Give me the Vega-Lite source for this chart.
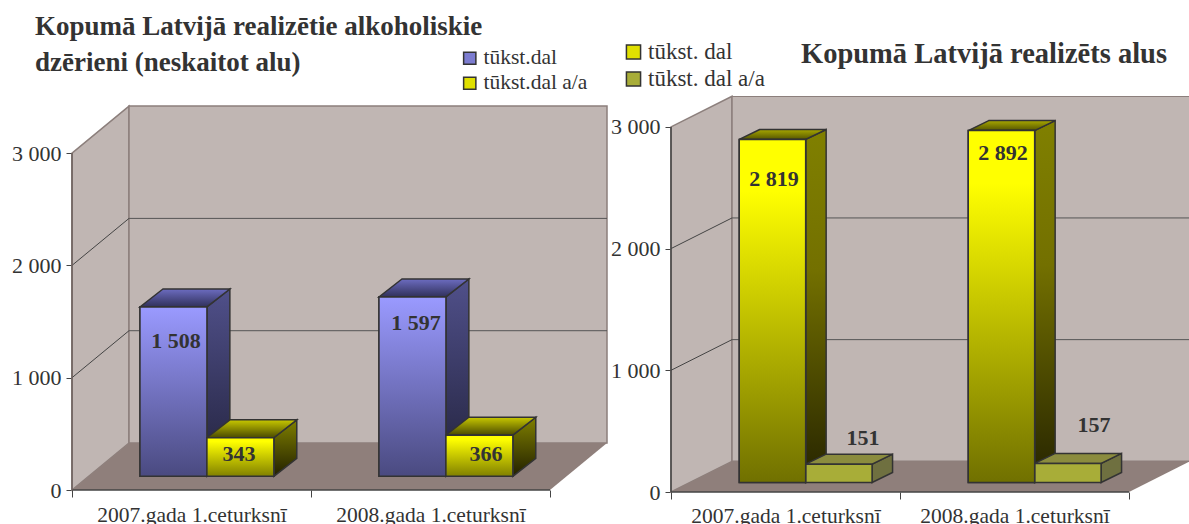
{"$schema":"https://vega.github.io/schema/vega-lite/v6.json","background":"white","padding":{"left":11,"top":12,"right":0,"bottom":0},"bounds":"flush","spacing":64,"resolve":{"scale":{"fill":"independent"},"legend":{"fill":"independent"}},"config":{"view":{"stroke":null},"font":"Liberation Serif"},
"datasets":{"ticks":[{"tick":0},{"tick":1000},{"tick":2000},{"tick":3000}],
"left":[{"group":0,"period":"2007.gada 1.ceturksnī","series":"tūkst.dal","value":1508},{"group":0,"period":"2007.gada 1.ceturksnī","series":"tūkst.dal a/a","value":343},{"group":1,"period":"2008.gada 1.ceturksnī","series":"tūkst.dal","value":1597},{"group":1,"period":"2008.gada 1.ceturksnī","series":"tūkst.dal a/a","value":366}],
"right":[{"group":0,"period":"2007.gada 1.ceturksnī","series":"tūkst. dal","value":2819},{"group":0,"period":"2007.gada 1.ceturksnī","series":"tūkst. dal a/a","value":151},{"group":1,"period":"2008.gada 1.ceturksnī","series":"tūkst. dal","value":2892},{"group":1,"period":"2008.gada 1.ceturksnī","series":"tūkst. dal a/a","value":157}]},
"hconcat":[
{"width":535,"height":396,
"title":{"text":["Kopumā Latvijā realizētie alkoholiskie","dzērieni (neskaitot alu)"],"anchor":"start","frame":"group","dx":-37,"offset":-29,"fontSize":27,"lineHeight":36,"fontWeight":"bold","font":"Liberation Serif","color":"#333333"},
"encoding":{"x":{"field":"x","type":"quantitative","scale":{"domain":[0,2.2385],"nice":false,"zero":false},"axis":{"title":null,"grid":false,"domain":false,"offset":-2,"values":[0,0.5,1,1.5,2],"labelExpr":"datum.value==0.5?'2007.gada 1.ceturksnī':datum.value==1.5?'2008.gada 1.ceturksnī':''","tickOpacity":{"condition":{"test":"datum.value%1!=0","value":0},"value":1},"tickSize":7,"tickColor":"#444444","labelFontSize":21.5,"labelColor":"#333333","labelPadding":7.5,"labelLimit":400,"labelOverlap":false,"labelFlush":false,"labelBound":false}},
"y":{"field":"y","type":"quantitative","scale":{"domain":[-17.8,3508.5],"nice":false,"zero":false},"axis":{"title":null,"grid":false,"domain":false,"values":[0,1000,2000,3000],"labelExpr":"replace(format(datum.value,','),',',' ')","tickSize":6,"tickColor":"#444444","labelFontSize":22,"labelColor":"#333333","labelPadding":5}}},
"layer":[
{"data":{"name":"ticks"},"transform":[{"filter":"datum.tick==3000"},{"calculate":"[0,1]","as":"t"},{"flatten":["t"]},{"calculate":"datum.t*0.2385","as":"x"},{"calculate":"datum.t*418.5","as":"y"},{"calculate":"datum.tick+datum.t*418.5","as":"y2"}],"mark":{"type":"area","fill":"#c0b6b3","stroke":"#8c7f7c","strokeWidth":1.5},"encoding":{"y2":{"field":"y2"}}},
{"data":{"name":"ticks"},"transform":[{"filter":"datum.tick==3000"},{"calculate":"0.2385","as":"x"},{"calculate":"2.2385","as":"x2"},{"calculate":"418.5","as":"y"},{"calculate":"datum.tick+418.5","as":"y2"}],"mark":{"type":"rect","fill":"#c0b6b3","stroke":"#8c7f7c","strokeWidth":1.5},"encoding":{"x2":{"field":"x2"},"y2":{"field":"y2"}}},
{"data":{"name":"ticks"},"transform":[{"filter":"datum.tick==0"},{"calculate":"[0,1]","as":"t"},{"flatten":["t"]},{"calculate":"datum.t*0.2385","as":"x"},{"calculate":"2+datum.t*0.2385","as":"x2"},{"calculate":"datum.t*418.5","as":"y"}],"mark":{"type":"area","fill":"#8f7f7b","orient":"horizontal"},"encoding":{"x2":{"field":"x2"}}},
{"data":{"name":"ticks"},"transform":[{"filter":"datum.tick==1000||datum.tick==2000"},{"calculate":"0.2385","as":"x"},{"calculate":"2.2385","as":"x2"},{"calculate":"datum.tick+418.5","as":"y"}],"mark":{"type":"rule","color":"#555555","strokeWidth":1},"encoding":{"x2":{"field":"x2"}}},
{"data":{"name":"ticks"},"transform":[{"filter":"datum.tick==1000||datum.tick==2000"},{"calculate":"[0,1]","as":"t"},{"flatten":["t"]},{"calculate":"datum.t*0.2385","as":"x"},{"calculate":"datum.tick+datum.t*418.5","as":"y"}],"mark":{"type":"line","color":"#444444","strokeWidth":1},"encoding":{"detail":{"field":"tick"}}},
{"data":{"name":"left"},"transform":[{"filter":"indexof(datum.series,'a/a')<0"},{"calculate":"[0,1]","as":"t"},{"flatten":["t"]},{"calculate":"datum.group+0.2845+0.28+datum.t*0.096","as":"x"},{"calculate":"122+datum.t*160","as":"y"},{"calculate":"122+datum.value+datum.t*160","as":"y2"}],"mark":{"type":"area","stroke":"#333333","strokeWidth":1.5,"fill":{"gradient":"linear","x1":0,"y1":0,"x2":0,"y2":1,"stops":[{"offset":0,"color":"#50508a"},{"offset":1,"color":"#22223c"}]}},"encoding":{"y2":{"field":"y2"},"detail":{"field":"group"}}},
{"data":{"name":"left"},"transform":[{"filter":"indexof(datum.series,'a/a')<0"},{"calculate":"[0,1]","as":"t"},{"flatten":["t"]},{"calculate":"datum.group+0.2845+datum.t*0.096","as":"x"},{"calculate":"datum.group+0.2845+0.28+datum.t*0.096","as":"x2"},{"calculate":"122+datum.value+datum.t*160","as":"y"}],"mark":{"type":"area","orient":"horizontal","stroke":"#333333","strokeWidth":1.5,"fill":{"gradient":"linear","x1":0,"y1":0,"x2":0,"y2":1,"stops":[{"offset":0,"color":"#6c6cc0"},{"offset":1,"color":"#30305a"}]}},"encoding":{"x2":{"field":"x2"},"detail":{"field":"group"}}},
{"data":{"name":"left"},"transform":[{"filter":"indexof(datum.series,'a/a')>=0"},{"calculate":"[0,1]","as":"t"},{"flatten":["t"]},{"calculate":"datum.group+0.2845+0.56+datum.t*0.096","as":"x"},{"calculate":"122+datum.t*160","as":"y"},{"calculate":"122+datum.value+datum.t*160","as":"y2"}],"mark":{"type":"area","stroke":"#333333","strokeWidth":1.5,"fill":{"gradient":"linear","x1":0,"y1":0,"x2":0,"y2":1,"stops":[{"offset":0,"color":"#808000"},{"offset":1,"color":"#222000"}]}},"encoding":{"y2":{"field":"y2"},"detail":{"field":"group"}}},
{"data":{"name":"left"},"transform":[{"filter":"indexof(datum.series,'a/a')>=0"},{"calculate":"[0,1]","as":"t"},{"flatten":["t"]},{"calculate":"datum.group+0.5645+datum.t*0.096","as":"x"},{"calculate":"datum.group+0.8445+datum.t*0.096","as":"x2"},{"calculate":"122+datum.value+datum.t*160","as":"y"}],"mark":{"type":"area","orient":"horizontal","stroke":"#333333","strokeWidth":1.5,"fill":{"gradient":"linear","x1":0,"y1":0,"x2":0,"y2":1,"stops":[{"offset":0,"color":"#c8c800"},{"offset":1,"color":"#4a4a00"}]}},"encoding":{"x2":{"field":"x2"},"detail":{"field":"group"}}},
{"data":{"name":"left"},"transform":[{"calculate":"indexof(datum.series,'a/a')<0?0:1","as":"s"},{"calculate":"datum.group+0.2845+datum.s*0.28","as":"x"},{"calculate":"datum.x+0.28","as":"x2"},{"calculate":"122","as":"y"},{"calculate":"122+datum.value","as":"y2"}],"mark":{"type":"rect","stroke":"#333333","strokeWidth":1.5},"encoding":{"x2":{"field":"x2"},"y2":{"field":"y2"},"fill":{"field":"series","type":"nominal","scale":{"domain":["tūkst.dal","tūkst.dal a/a"],"range":["#7c7cd0","#e0e000"]},"legend":{"title":null,"orient":"none","legendX":387,"legendY":-48.5,"symbolType":"square","symbolSize":150,"symbolStrokeWidth":1.5,"labelFontSize":21.5,"labelColor":"#333333","rowPadding":2,"labelOffset":3,"encode":{"symbols":{"update":{"fill":{"signal":"indexof(datum.value,'a/a')<0?{gradient:'linear',x1:0,y1:0,x2:0,y2:1,stops:[{offset:0,color:'#9a9aff'},{offset:1,color:'#4a4a80'}]}:{gradient:'linear',x1:0,y1:0,x2:0,y2:1,stops:[{offset:0.1,color:'#ffff00'},{offset:1,color:'#808000'}]}"}}}}}}}},
{"data":{"name":"left"},"transform":[{"filter":"indexof(datum.series,'a/a')<0"},{"calculate":"datum.group+0.2845","as":"x"},{"calculate":"datum.x+0.28","as":"x2"},{"calculate":"122","as":"y"},{"calculate":"122+datum.value","as":"y2"}],"mark":{"type":"rect","stroke":"#333333","strokeWidth":1.5,"fill":{"gradient":"linear","x1":0,"y1":0,"x2":0,"y2":1,"stops":[{"offset":0,"color":"#9a9aff"},{"offset":1,"color":"#4a4a80"}]}},"encoding":{"x2":{"field":"x2"},"y2":{"field":"y2"}}},
{"data":{"name":"left"},"transform":[{"filter":"indexof(datum.series,'a/a')>=0"},{"calculate":"datum.group+0.5645","as":"x"},{"calculate":"datum.x+0.28","as":"x2"},{"calculate":"122","as":"y"},{"calculate":"122+datum.value","as":"y2"}],"mark":{"type":"rect","stroke":"#333333","strokeWidth":1.5,"fill":{"gradient":"linear","x1":0,"y1":0,"x2":0,"y2":1,"stops":[{"offset":0.1,"color":"#ffff00"},{"offset":1,"color":"#808000"}]}},"encoding":{"x2":{"field":"x2"},"y2":{"field":"y2"}}},
{"data":{"name":"left"},"transform":[{"calculate":"({'1508':0.435,'343':0.699,'1597':1.439,'366':1.732})[datum.value]","as":"x"},{"calculate":"({'1508':1327,'343':323,'1597':1487,'366':323})[datum.value]","as":"y"},{"calculate":"replace(format(datum.value,','),',',' ')","as":"label"}],"mark":{"type":"text","fontSize":22,"fontWeight":"bold","color":"#333333","baseline":"middle","align":"center"},"encoding":{"text":{"field":"label"}}},
{"data":{"name":"ticks"},"transform":[{"filter":"datum.tick==0"},{"calculate":"0","as":"x"},{"calculate":"2","as":"x2"},{"calculate":"0","as":"y"}],"mark":{"type":"rule","color":"#444444","strokeWidth":1.5},"encoding":{"x2":{"field":"x2"}}},
{"data":{"name":"ticks"},"transform":[{"filter":"datum.tick==0"},{"calculate":"0","as":"x"},{"calculate":"0","as":"y"},{"calculate":"3000","as":"y2"}],"mark":{"type":"rule","color":"#6b5f5c","strokeWidth":1.5},"encoding":{"y2":{"field":"y2"}}}
]},
{"width":518,"height":396,
"title":{"text":"Kopumā Latvijā realizēts alus","anchor":"start","frame":"group","dx":130,"offset":-28,"fontSize":28.5,"fontWeight":"bold","font":"Liberation Serif","color":"#333333"},
"encoding":{"x":{"field":"x","type":"quantitative","scale":{"domain":[0,2.262],"nice":false,"zero":false},"axis":{"title":null,"grid":false,"domain":false,"values":[0,0.5,1,1.5,2],"labelExpr":"datum.value==0.5?'2007.gada 1.ceturksnī':datum.value==1.5?'2008.gada 1.ceturksnī':''","tickOpacity":{"condition":{"test":"datum.value%1!=0","value":0},"value":1},"tickSize":7,"tickColor":"#444444","labelFontSize":21.5,"labelColor":"#333333","labelPadding":6,"labelLimit":400,"labelOverlap":false,"labelFlush":false,"labelBound":false}},
"y":{"field":"y","type":"quantitative","scale":{"domain":[0,3254],"nice":false,"zero":false},"axis":{"title":null,"grid":false,"domain":false,"values":[0,1000,2000,3000],"labelExpr":"replace(format(datum.value,','),',',' ')","tickSize":6,"tickColor":"#444444","labelFontSize":22,"labelColor":"#333333","labelPadding":5}}},
"layer":[
{"data":{"name":"ticks"},"transform":[{"filter":"datum.tick==3000"},{"calculate":"[0,1]","as":"t"},{"flatten":["t"]},{"calculate":"datum.t*0.2664","as":"x"},{"calculate":"datum.t*252","as":"y"},{"calculate":"datum.tick+datum.t*252","as":"y2"}],"mark":{"type":"area","fill":"#c0b6b3","stroke":"#8c7f7c","strokeWidth":1.5},"encoding":{"y2":{"field":"y2"}}},
{"data":{"name":"ticks"},"transform":[{"filter":"datum.tick==3000"},{"calculate":"0.2664","as":"x"},{"calculate":"2.2664","as":"x2"},{"calculate":"252","as":"y"},{"calculate":"datum.tick+252","as":"y2"}],"mark":{"type":"rect","fill":"#c0b6b3","stroke":"#8c7f7c","strokeWidth":1.5,"clip":true},"encoding":{"x2":{"field":"x2"},"y2":{"field":"y2"}}},
{"data":{"name":"ticks"},"transform":[{"filter":"datum.tick==0"},{"calculate":"[0,1]","as":"t"},{"flatten":["t"]},{"calculate":"datum.t*0.2664","as":"x"},{"calculate":"2+datum.t*0.2664","as":"x2"},{"calculate":"datum.t*252","as":"y"}],"mark":{"type":"area","fill":"#8f7f7b","orient":"horizontal","clip":true},"encoding":{"x2":{"field":"x2"}}},
{"data":{"name":"ticks"},"transform":[{"filter":"datum.tick==1000||datum.tick==2000"},{"calculate":"0.2664","as":"x"},{"calculate":"2.2664","as":"x2"},{"calculate":"datum.tick+252","as":"y"}],"mark":{"type":"rule","color":"#555555","strokeWidth":1,"clip":true},"encoding":{"x2":{"field":"x2"}}},
{"data":{"name":"ticks"},"transform":[{"filter":"datum.tick==1000||datum.tick==2000"},{"calculate":"[0,1]","as":"t"},{"flatten":["t"]},{"calculate":"datum.t*0.2664","as":"x"},{"calculate":"datum.tick+datum.t*252","as":"y"}],"mark":{"type":"line","color":"#444444","strokeWidth":1},"encoding":{"detail":{"field":"tick"}}},
{"data":{"name":"right"},"transform":[{"filter":"indexof(datum.series,'a/a')<0"},{"calculate":"[0,1]","as":"t"},{"flatten":["t"]},{"calculate":"datum.group+0.298+0.29+datum.t*0.0895","as":"x"},{"calculate":"78+datum.t*82","as":"y"},{"calculate":"78+datum.value+datum.t*82","as":"y2"}],"mark":{"type":"area","stroke":"#333333","strokeWidth":1.5,"fill":{"gradient":"linear","x1":0,"y1":0,"x2":0,"y2":1,"stops":[{"offset":0,"color":"#808000"},{"offset":0.4,"color":"#737000"},{"offset":1,"color":"#262400"}]}},"encoding":{"y2":{"field":"y2"},"detail":{"field":"group"}}},
{"data":{"name":"right"},"transform":[{"filter":"indexof(datum.series,'a/a')<0"},{"calculate":"[0,1]","as":"t"},{"flatten":["t"]},{"calculate":"datum.group+0.298+datum.t*0.0895","as":"x"},{"calculate":"datum.group+0.588+datum.t*0.0895","as":"x2"},{"calculate":"78+datum.value+datum.t*82","as":"y"}],"mark":{"type":"area","orient":"horizontal","stroke":"#333333","strokeWidth":1.5,"fill":{"gradient":"linear","x1":0,"y1":0,"x2":0,"y2":1,"stops":[{"offset":0,"color":"#a8a800"},{"offset":1,"color":"#555500"}]}},"encoding":{"x2":{"field":"x2"},"detail":{"field":"group"}}},
{"data":{"name":"right"},"transform":[{"filter":"indexof(datum.series,'a/a')>=0"},{"calculate":"[0,1]","as":"t"},{"flatten":["t"]},{"calculate":"datum.group+0.298+0.58+datum.t*0.0895","as":"x"},{"calculate":"78+datum.t*82","as":"y"},{"calculate":"78+datum.value+datum.t*82","as":"y2"}],"mark":{"type":"area","fill":"#6f7040","stroke":"#333333","strokeWidth":1.5},"encoding":{"y2":{"field":"y2"},"detail":{"field":"group"}}},
{"data":{"name":"right"},"transform":[{"filter":"indexof(datum.series,'a/a')>=0"},{"calculate":"[0,1]","as":"t"},{"flatten":["t"]},{"calculate":"datum.group+0.588+datum.t*0.0895","as":"x"},{"calculate":"datum.group+0.878+datum.t*0.0895","as":"x2"},{"calculate":"78+datum.value+datum.t*82","as":"y"}],"mark":{"type":"area","orient":"horizontal","fill":"#8b8c3e","stroke":"#333333","strokeWidth":1.5},"encoding":{"x2":{"field":"x2"},"detail":{"field":"group"}}},
{"data":{"name":"right"},"transform":[{"calculate":"indexof(datum.series,'a/a')<0?0:1","as":"s"},{"calculate":"datum.group+0.298+datum.s*0.29","as":"x"},{"calculate":"datum.x+0.29","as":"x2"},{"calculate":"78","as":"y"},{"calculate":"78+datum.value","as":"y2"}],"mark":{"type":"rect","stroke":"#333333","strokeWidth":1.5},"encoding":{"x2":{"field":"x2"},"y2":{"field":"y2"},"fill":{"field":"series","type":"nominal","scale":{"domain":["tūkst. dal","tūkst. dal a/a"],"range":["#e0e000","#a8ad38"]},"legend":{"title":null,"orient":"none","legendX":-49,"legendY":-55.5,"symbolType":"square","symbolSize":200,"symbolStrokeWidth":1.5,"labelFontSize":23,"labelColor":"#333333","rowPadding":3,"labelOffset":3,"encode":{"symbols":{"update":{"fill":{"signal":"indexof(datum.value,'a/a')<0?{gradient:'linear',x1:0,y1:0,x2:0,y2:1,stops:[{offset:0.15,color:'#ffff00'},{offset:1,color:'#707000'}]}:'#a8ad38'"}}}}}}}},
{"data":{"name":"right"},"transform":[{"filter":"indexof(datum.series,'a/a')<0"},{"calculate":"datum.group+0.298","as":"x"},{"calculate":"datum.x+0.29","as":"x2"},{"calculate":"78","as":"y"},{"calculate":"78+datum.value","as":"y2"}],"mark":{"type":"rect","stroke":"#333333","strokeWidth":1.5,"fill":{"gradient":"linear","x1":0,"y1":0,"x2":0,"y2":1,"stops":[{"offset":0.15,"color":"#ffff00"},{"offset":1,"color":"#707000"}]}},"encoding":{"x2":{"field":"x2"},"y2":{"field":"y2"}}},
{"data":{"name":"right"},"transform":[{"calculate":"({'2819':0.45,'151':0.838,'2892':1.45,'157':1.847})[datum.value]","as":"x"},{"calculate":"({'2819':2570,'151':444,'2892':2785,'157':548})[datum.value]","as":"y"},{"calculate":"replace(format(datum.value,','),',',' ')","as":"label"}],"mark":{"type":"text","fontSize":22,"fontWeight":"bold","color":"#333333","baseline":"middle","align":"center"},"encoding":{"text":{"field":"label"}}},
{"data":{"name":"ticks"},"transform":[{"filter":"datum.tick==0"},{"calculate":"0","as":"x"},{"calculate":"2","as":"x2"},{"calculate":"0","as":"y"}],"mark":{"type":"rule","color":"#444444","strokeWidth":1.5},"encoding":{"x2":{"field":"x2"}}},
{"data":{"name":"ticks"},"transform":[{"filter":"datum.tick==0"},{"calculate":"0","as":"x"},{"calculate":"0","as":"y"},{"calculate":"3000","as":"y2"}],"mark":{"type":"rule","color":"#444444","strokeWidth":1.5},"encoding":{"y2":{"field":"y2"}}}
]}
]}
